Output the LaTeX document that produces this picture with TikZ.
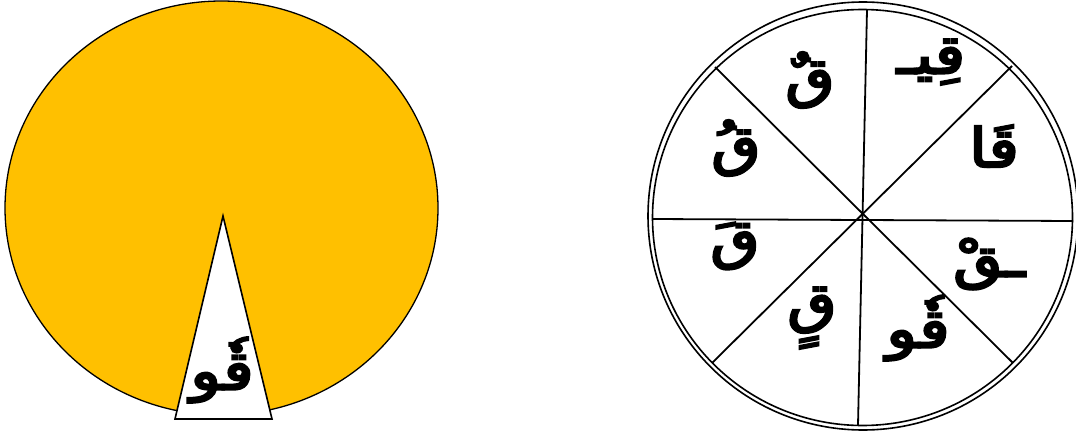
\documentclass[tikz,border=0pt]{standalone}
\usepackage{fontspec}
\TeXXeTstate=1
\newfontfamily\arabicfont[Script=Arabic,FakeBold=4]{DejaVu Sans}
\definecolor{gold}{HTML}{FFC000}
\newcommand{\artxt}[1]{\scalebox{1.18}[1.0]{\beginR #1\endR}}
\begin{document}
\begin{tikzpicture}[x=1pt,y=-1pt,
  ar/.style={font=\arabicfont\fontsize{54}{56}\selectfont, inner sep=0pt},
  seg/.style={draw=black, line width=1.8pt}]
\useasboundingbox (0,0) rectangle (1076,436);
% left wheel
\draw[fill=gold, line width=1.3pt] (221.5,208) ellipse [x radius=216.5, y radius=207];
\coordinate (ta) at (223,216);
\coordinate (tl) at (175,419);
\coordinate (tr) at (272,419);
\draw[fill=white, line width=1.6pt, line join=miter] (ta) -- (tl) -- (tr) -- cycle;
\node[ar] (lq) at (222,370) {\artxt{قٗو}};
% right wheel
\draw[fill=white, line width=1.6pt] (863,216) ellipse [x radius=215, y radius=214];
\draw[line width=1.6pt] (862.5,217.5) ellipse [x radius=210, y radius=208];
\coordinate (hL) at (652,219);
\coordinate (hR) at (1073,221);
\coordinate (vT) at (867,10);
\coordinate (vB) at (858,425);
\coordinate (d1a) at (715,67);
\coordinate (d1b) at (1013,363);
\coordinate (d2a) at (1012,66);
\coordinate (d2b) at (712,363);
\draw[seg] (hL) -- (hR);
\draw[seg] (vT) -- (vB);
\draw[seg] (d1a) -- (d1b);
\draw[seg] (d2a) -- (d2b);
\node[ar] (s1) at (810,80) {\artxt{قٌ}};
\node[ar] (s2) at (931,62) {\artxt{قِيـ}};
\node[ar] (s3) at (994,146) {\artxt{قَا}};
\node[ar] (s4) at (736,148) {\artxt{قُ}};
\node[ar] (s5) at (735,246) {\artxt{قَ}};
\node[ar] (s6) at (989,264) {\artxt{ـقْ}};
\node[ar] (s7) at (812,318) {\artxt{قٍ}};
\node[ar] (s8) at (918,328) {\artxt{قٗو}};
\end{tikzpicture}
\end{document}
